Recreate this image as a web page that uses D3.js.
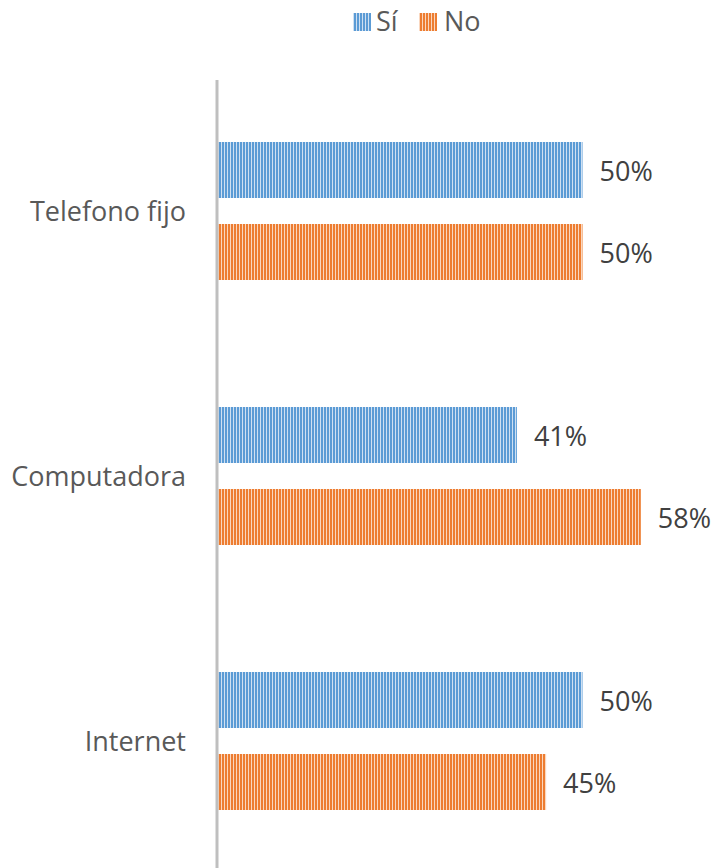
<!DOCTYPE html>
<html>
<head>
<meta charset="utf-8">
<script src="https://cdn.jsdelivr.net/npm/d3@7"></script>
<style>
  html, body { margin: 0; padding: 0; background: #fff; }
  svg { display: block; font-family: "Open Sans", sans-serif; }
</style>
</head>
<body>
<svg id="chart" width="716" height="868"></svg>
<script>
const categories = ["Telefono fijo", "Computadora", "Internet"];
const seriesNames = ["Sí", "No"];
const siValues = [50, 41, 50];
const noValues = [50, 58, 45];
const valueLabels = [["50%", "50%"], ["41%", "58%"], ["50%", "45%"]];

const colors = { "Sí": ["#5b9bd5", "#cfe0f2"], "No": ["#ed7d31", "#fad7bf"] };

const svg = d3.select("#chart");
const axisX = 218;
const fontSize = 27;

// vertical stripe patterns
const defs = svg.append("defs");
seriesNames.forEach((s, i) => {
  const p = defs.append("pattern")
    .attr("id", "stripe" + i)
    .attr("patternUnits", "userSpaceOnUse")
    .attr("width", 3).attr("height", 10);
  p.append("rect").attr("width", 3).attr("height", 10).attr("fill", colors[s][1]);
  p.append("rect").attr("width", 2).attr("height", 10).attr("fill", colors[s][0]);
});

const x = d3.scaleLinear().domain([0, 100]).range([axisX, axisX + 729]);
const y = d3.scaleBand().domain(categories).range([78.5, 873.5]);
const inner = d3.scaleBand().domain(seriesNames).range([63.5, 265 - 63.5]).paddingInner(26 / 82);

const data = categories.map((c, i) => ({ cat: c, vals: [siValues[i], noValues[i]], labels: valueLabels[i] }));

const g = svg.append("g");
data.forEach(d => {
  seriesNames.forEach((s, j) => {
    const yy = y(d.cat) + inner(s);
    g.append("rect")
      .attr("x", x(0)).attr("y", yy)
      .attr("width", x(d.vals[j]) - x(0))
      .attr("height", inner.bandwidth())
      .attr("fill", `url(#stripe${j})`);
    g.append("text")
      .attr("x", x(d.vals[j]) + 17)
      .attr("y", yy + inner.bandwidth() / 2 + 2)
      .attr("dy", "0.35em")
      .attr("font-size", fontSize)
      .attr("fill", "#404040")
      .text(d.labels[j]);
  });
  g.append("text")
    .attr("x", 186)
    .attr("y", y(d.cat) + y.bandwidth() / 2 + 1)
    .attr("dy", "0.35em")
    .attr("text-anchor", "end")
    .attr("font-size", fontSize)
    .attr("fill", "#595959")
    .text(d.cat);
});

// category axis line
svg.append("line")
  .attr("x1", axisX - 1).attr("x2", axisX - 1)
  .attr("y1", 80).attr("y2", 868)
  .attr("stroke", "#bfbfbf").attr("stroke-width", 3);

// legend
const legend = svg.append("g");
const legendItems = [{ name: "Sí", x: 353, tx: 376 }, { name: "No", x: 419, tx: 444 }];
legendItems.forEach((it, j) => {
  legend.append("rect")
    .attr("x", it.x).attr("y", 13).attr("width", 18).attr("height", 18)
    .attr("fill", `url(#stripe${j})`);
  legend.append("text")
    .attr("x", it.tx).attr("y", 22).attr("dy", "0.35em")
    .attr("font-size", fontSize).attr("fill", "#595959")
    .text(it.name);
});
</script>
</body>
</html>
